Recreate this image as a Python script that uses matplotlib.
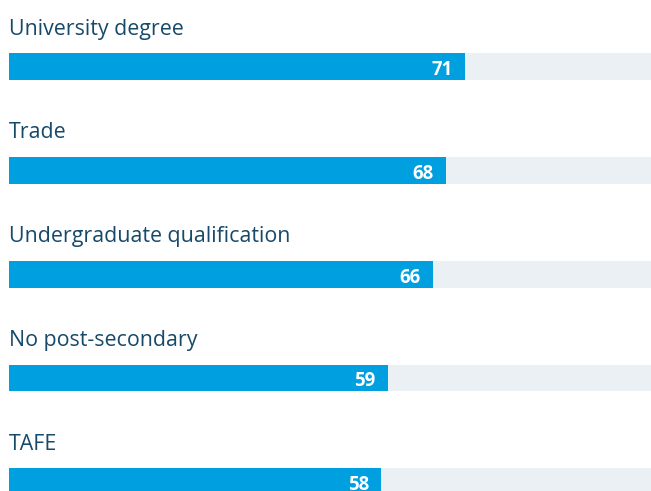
import matplotlib
matplotlib.use("Agg")
import matplotlib.pyplot as plt

categories = ["University degree", "Trade", "Undergraduate qualification",
              "No post-secondary", "TAFE"]
values = [71, 68, 66, 59, 58]
track_max = 100

BAR = "#009fe0"
TRACK = "#ebf0f5"
LABEL = "#17496a"

fig = plt.figure(figsize=(6.51, 4.91), dpi=100)
ax = fig.add_axes([9 / 651, 0, 642 / 651, 1])
ax.axis("off")

ys = list(range(len(categories)))
ax.barh(ys, [track_max] * len(ys), height=0.2575, color=TRACK, left=0)
ax.barh(ys, values, height=0.2575, color=BAR, left=0)

for y, cat, v in zip(ys, categories, values):
    ax.text(0.05, y - 0.309, cat, ha="left", va="baseline", fontsize=15.4,
            color=LABEL, family="Open Sans")
    ax.text(v - 1.9, y + 0.01, str(v), ha="right", va="center_baseline",
            fontsize=13.4, fontweight="bold", color="white", family="Open Sans")

ax.set_xlim(0, track_max)
ax.set_ylim(4.091, -0.6437)

fig.savefig("out.png", dpi=100)
